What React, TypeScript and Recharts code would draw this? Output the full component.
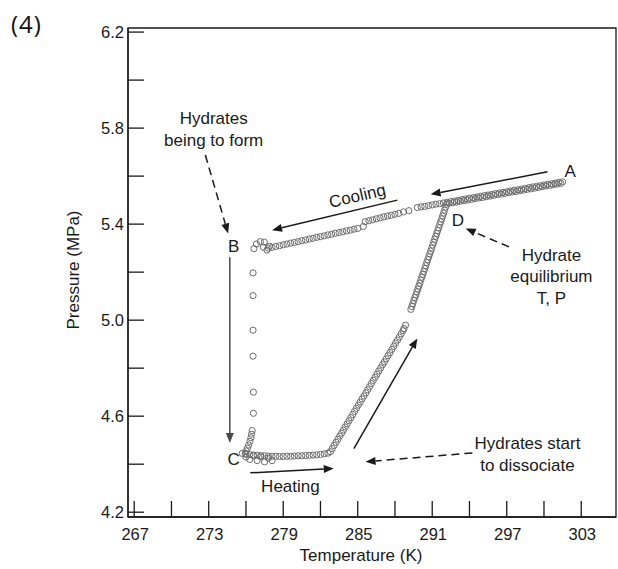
import {
  ReferenceArea,
  ReferenceDot,
  ReferenceLine,
  Scatter,
  ScatterChart,
  XAxis,
  YAxis,
} from "recharts";

type Pt = [number, number]; // [temperature K, pressure MPa]

// cooling run leaving A
const coolingFromA: Pt[] = [
  [301.5, 5.576], [301.2, 5.574], [300.9, 5.571], [300.6, 5.568], [300.3, 5.566],
  [300.0, 5.563], [299.7, 5.56], [299.4, 5.557], [299.1, 5.555], [298.8, 5.552],
  [298.5, 5.549], [298.2, 5.546], [297.9, 5.543], [297.6, 5.541], [297.3, 5.538],
  [297.0, 5.535], [296.7, 5.532], [296.4, 5.53], [296.1, 5.527], [295.8, 5.524],
  [295.5, 5.521], [295.2, 5.519], [294.9, 5.516], [294.6, 5.513], [294.3, 5.51],
  [294.0, 5.508], [293.7, 5.505], [293.4, 5.502], [293.1, 5.499], [292.8, 5.496],
  [292.5, 5.494], [292.2, 5.491], [291.9, 5.488], [291.6, 5.485], [291.3, 5.483],
  [291.0, 5.48], [290.7, 5.477], [290.4, 5.474], [290.1, 5.472], [289.8, 5.469],
];

const coolingStray: Pt[] = [[289.12, 5.456], [288.69, 5.451], [285.45, 5.39]];

const coolingMid: Pt[] = [
  [288.3, 5.445], [288.0, 5.441], [287.7, 5.437], [287.4, 5.434], [287.1, 5.43],
  [286.8, 5.426], [286.5, 5.422], [286.2, 5.418], [285.9, 5.414], [285.6, 5.41],
];

const coolingToB: Pt[] = [
  [285.0, 5.382], [284.7, 5.379], [284.4, 5.375], [284.1, 5.372], [283.8, 5.368],
  [283.5, 5.365], [283.2, 5.362], [282.9, 5.358], [282.6, 5.355], [282.3, 5.351],
  [282.0, 5.348], [281.7, 5.345], [281.4, 5.341], [281.1, 5.338], [280.8, 5.334],
  [280.5, 5.331], [280.2, 5.327], [279.9, 5.324], [279.6, 5.321], [279.3, 5.317],
  [279.0, 5.314], [278.7, 5.31], [278.4, 5.307], [278.1, 5.303], [277.8, 5.3],
];

const clusterB: Pt[] = [
  [276.64, 5.298], [276.84, 5.317], [277.16, 5.327], [277.48, 5.325],
  [277.69, 5.292], [277.89, 5.308], [277.4, 5.304],
];

// pressure drop while hydrates form
const dropBC: Pt[] = [
  [276.57, 5.197], [276.57, 5.102], [276.57, 4.958], [276.57, 4.85],
  [276.6, 4.7], [276.6, 4.612], [276.5, 4.54], [276.45, 4.525], [276.4, 4.51],
  [276.32, 4.495], [276.22, 4.48], [276.12, 4.467], [276.03, 4.455], [275.95, 4.445],
];

const clusterC: Pt[] = [
  [275.7, 4.445], [276.0, 4.43], [276.3, 4.42], [276.6, 4.435], [276.9, 4.415],
  [277.2, 4.43], [277.5, 4.41], [277.8, 4.425], [278.1, 4.415],
];

const heatingFlat: Pt[] = [
  [276.0, 4.441], [276.3, 4.44], [276.6, 4.438], [276.9, 4.437], [277.2, 4.436],
  [277.5, 4.435], [277.8, 4.434], [278.1, 4.433], [278.4, 4.433], [278.7, 4.432],
  [279.0, 4.432], [279.3, 4.433], [279.6, 4.433], [279.9, 4.434], [280.2, 4.435],
  [280.5, 4.435], [280.8, 4.436], [281.1, 4.437], [281.4, 4.438], [281.7, 4.439],
  [282.0, 4.441], [282.3, 4.443], [282.6, 4.446],
];

const heatingRiseLow: Pt[] = [
  [282.8, 4.452], [282.95, 4.465], [283.1, 4.478], [283.25, 4.491], [283.4, 4.504],
  [283.55, 4.517], [283.7, 4.529], [283.85, 4.542], [284.0, 4.555], [284.15, 4.568],
  [284.3, 4.581], [284.45, 4.594], [284.6, 4.607], [284.75, 4.62], [284.9, 4.633],
  [285.05, 4.646], [285.2, 4.659], [285.35, 4.672], [285.5, 4.684], [285.65, 4.697],
  [285.8, 4.71], [285.95, 4.723], [286.1, 4.736], [286.25, 4.749], [286.4, 4.762],
  [286.55, 4.775], [286.7, 4.788], [286.85, 4.801], [287.0, 4.814], [287.15, 4.826],
  [287.3, 4.839], [287.45, 4.852], [287.6, 4.865], [287.75, 4.878], [287.9, 4.891],
  [288.05, 4.904], [288.2, 4.917], [288.35, 4.93], [288.5, 4.943], [288.65, 4.956],
  [288.72, 4.965], [288.85, 4.979],
];

const heatingRiseHigh: Pt[] = [
  [289.28, 5.045], [289.36, 5.057], [289.44, 5.069], [289.52, 5.082], [289.6, 5.094],
  [289.68, 5.106], [289.76, 5.118], [289.84, 5.13], [289.92, 5.142], [290.0, 5.154],
  [290.08, 5.167], [290.16, 5.179], [290.24, 5.191], [290.32, 5.203], [290.4, 5.215],
  [290.48, 5.227], [290.56, 5.24], [290.64, 5.252], [290.72, 5.264], [290.8, 5.276],
  [290.88, 5.288], [290.96, 5.3], [291.04, 5.313], [291.12, 5.325], [291.2, 5.337],
  [291.28, 5.349], [291.36, 5.361], [291.44, 5.373], [291.52, 5.385], [291.6, 5.398],
  [291.68, 5.41], [291.76, 5.422], [291.84, 5.434], [291.92, 5.446], [292.0, 5.458],
  [292.08, 5.471], [292.16, 5.483],
];

// heating run from D back up to A
const heatingToA: Pt[] = [
  [292.35, 5.487], [292.65, 5.489], [292.95, 5.492], [293.25, 5.495], [293.55, 5.498],
  [293.85, 5.5], [294.15, 5.503], [294.45, 5.506], [294.75, 5.509], [295.05, 5.511],
  [295.35, 5.514], [295.65, 5.517], [295.95, 5.52], [296.25, 5.523], [296.55, 5.525],
  [296.85, 5.528], [297.15, 5.531], [297.45, 5.534], [297.75, 5.536], [298.05, 5.539],
  [298.35, 5.542], [298.65, 5.545], [298.95, 5.547], [299.25, 5.55], [299.55, 5.553],
  [299.85, 5.556], [300.15, 5.559], [300.45, 5.561], [300.75, 5.564], [301.05, 5.567],
  [301.35, 5.57],
];

const xTicks = [267, 270, 273, 276, 279, 282, 285, 288, 291, 294, 297, 300, 303];
const xLabels = [267, 273, 279, 285, 291, 297, 303];
const yTicks = [4.2, 4.4, 4.6, 4.8, 5.0, 5.2, 5.4, 5.6, 5.8, 6.0, 6.2];
const yLabels = [4.2, 4.6, 5.0, 5.4, 5.8, 6.2];

const xDomain: Pt = [266.5, 305.8];
const yDomain: Pt = [4.18, 6.217];

type ArrowSpec = { from: Pt; to: Pt; dashed?: boolean; color?: string };
const arrows: ArrowSpec[] = [
  { from: [300.28, 5.618], to: [290.87, 5.524] },
  { from: [288.19, 5.5], to: [278.1, 5.375] },
  { from: [274.7, 5.262], to: [274.7, 4.488], color: "#4a4a4a" },
  { from: [272.73, 5.688], to: [274.56, 5.361], dashed: true },
  { from: [276.35, 4.364], to: [283.07, 4.382] },
  { from: [284.69, 4.465], to: [289.8, 4.924] },
  { from: [294.23, 4.447], to: [285.63, 4.41], dashed: true },
  { from: [297.19, 5.305], to: [293.69, 5.382], dashed: true },
];

type Note = { at: Pt; lines: string[]; angle?: number };
const notes: Note[] = [
  { at: [302.1, 5.618], lines: ["A"] },
  { at: [275.0, 5.305], lines: ["B"] },
  { at: [275.0, 4.42], lines: ["C"] },
  { at: [293.07, 5.417], lines: ["D"] },
  { at: [273.4, 5.84], lines: ["Hydrates", "being to form"] },
  { at: [284.98, 5.517], lines: ["Cooling"], angle: -13 },
  { at: [279.58, 4.305], lines: ["Heating"] },
  { at: [300.6, 5.271], lines: ["Hydrate", "equilibrium", "T, P"] },
  { at: [298.67, 4.486], lines: ["Hydrates start", "to dissociate"] },
];

const INK = "#1a1a1a";
const FONT = "'Liberation Sans', Arial, sans-serif";

const points = [
  ...coolingFromA, ...coolingStray, ...coolingMid, ...coolingToB, ...clusterB,
  ...dropBC, ...clusterC, ...heatingFlat, ...heatingRiseLow, ...heatingRiseHigh,
  ...heatingToA,
].map(([t, p]) => ({ t, p }));

function XTick(props: any) {
  const { x, y, payload } = props;
  const v = payload.value as number;
  return (
    <g>
      <line x1={x} x2={x} y1={y} y2={y - 16} stroke={INK} strokeWidth={1.3} />
      {xLabels.includes(v) && (
        <text x={x + 1} y={y + 17} textAnchor="middle" dominantBaseline="central" fontSize={16.5} fill={INK}>
          {v}
        </text>
      )}
    </g>
  );
}

function YTick(props: any) {
  const { x, y, payload } = props;
  const v = payload.value as number;
  const labelled = yLabels.some((l) => Math.abs(l - v) < 1e-6);
  return (
    <g>
      <line x1={x} x2={x + 16} y1={y} y2={y} stroke={INK} strokeWidth={1.3} />
      {labelled && (
        <text x={x - 4} y={y} textAnchor="end" dominantBaseline="central" fontSize={16.5} fill={INK}>
          {v.toFixed(1)}
        </text>
      )}
    </g>
  );
}

function arrowShape(dashed: boolean, color: string) {
  return (props: any) => {
    const { x1, y1, x2, y2 } = props;
    const len = Math.hypot(x2 - x1, y2 - y1) || 1;
    const ux = (x2 - x1) / len;
    const uy = (y2 - y1) / len;
    const head = 10;
    const half = 4;
    const bx = x2 - ux * head;
    const by = y2 - uy * head;
    return (
      <g>
        <line
          x1={x1}
          y1={y1}
          x2={bx}
          y2={by}
          stroke={color}
          strokeWidth={1.5}
          strokeDasharray={dashed ? "8 5" : undefined}
        />
        <polygon
          points={`${x2},${y2} ${bx - uy * half},${by + ux * half} ${bx + uy * half},${by - ux * half}`}
          fill={color}
        />
      </g>
    );
  };
}

function noteShape(note: Note) {
  return (props: any) => {
    const { cx, cy } = props;
    return (
      <text
        x={cx}
        y={cy}
        textAnchor="middle"
        fontSize={17}
        fill={INK}
        transform={note.angle ? `rotate(${note.angle} ${cx} ${cy})` : undefined}
      >
        {note.lines.map((line, i) => (
          <tspan key={i} x={cx} y={cy + i * 21.7} dominantBaseline="central">
            {line}
          </tspan>
        ))}
      </text>
    );
  };
}

const circle = (props: any) => (
  <circle cx={props.cx} cy={props.cy} r={3.1} fill="none" stroke="#6c6c6c" strokeWidth={1} />
);

export default function App() {
  return (
    <div
      style={{
        position: "absolute",
        left: 0,
        top: 0,
        width: 618,
        height: 569,
        background: "#fff",
        fontFamily: FONT,
      }}
    >
      <ScatterChart width={618} height={569} margin={{ top: 28, right: 2, bottom: 22, left: 68 }}>
        <XAxis
          type="number"
          dataKey="t"
          domain={xDomain}
          ticks={xTicks}
          interval={0}
          allowDataOverflow
          height={30}
          tickSize={0}
          tickMargin={0}
          tickLine={false}
          axisLine={{ stroke: INK, strokeWidth: 1.3 }}
          tick={<XTick />}
        />
        <YAxis
          type="number"
          dataKey="p"
          domain={yDomain}
          ticks={yTicks}
          interval={0}
          allowDataOverflow
          width={60}
          tickSize={0}
          tickMargin={0}
          tickLine={false}
          axisLine={{ stroke: INK, strokeWidth: 1.3 }}
          tick={<YTick />}
        />
        <ReferenceArea
          x1={xDomain[0]}
          x2={xDomain[1]}
          y1={yDomain[0]}
          y2={yDomain[1]}
          fill="none"
          fillOpacity={0}
          stroke={INK}
          strokeWidth={1.3}
          ifOverflow="visible"
        />
        <Scatter data={points} shape={circle} isAnimationActive={false} />
        {arrows.map((a, i) => (
          <ReferenceLine
            key={`arrow-${i}`}
            segment={[
              { x: a.from[0], y: a.from[1] },
              { x: a.to[0], y: a.to[1] },
            ]}
            ifOverflow="visible"
            shape={arrowShape(!!a.dashed, a.color ?? INK)}
          />
        ))}
        {notes.map((n, i) => (
          <ReferenceDot
            key={`note-${i}`}
            x={n.at[0]}
            y={n.at[1]}
            r={0}
            ifOverflow="visible"
            shape={noteShape(n)}
          />
        ))}
      </ScatterChart>
      <svg
        width={618}
        height={569}
        style={{ position: "absolute", left: 0, top: 0, pointerEvents: "none" }}
      >
        <text x={11} y={23} dominantBaseline="central" fontSize={24} fill="#111" letterSpacing={1} fontFamily="'Open Sans', sans-serif">
          (4)
        </text>
        <text
          x={73}
          y={270}
          textAnchor="middle"
          dominantBaseline="central"
          fontSize={17}
          fill={INK}
          transform="rotate(-90 73 270)"
        >
          Pressure (MPa)
        </text>
        <text x={361} y={555} textAnchor="middle" dominantBaseline="central" fontSize={17} fill={INK}>
          Temperature (K)
        </text>
      </svg>
    </div>
  );
}
